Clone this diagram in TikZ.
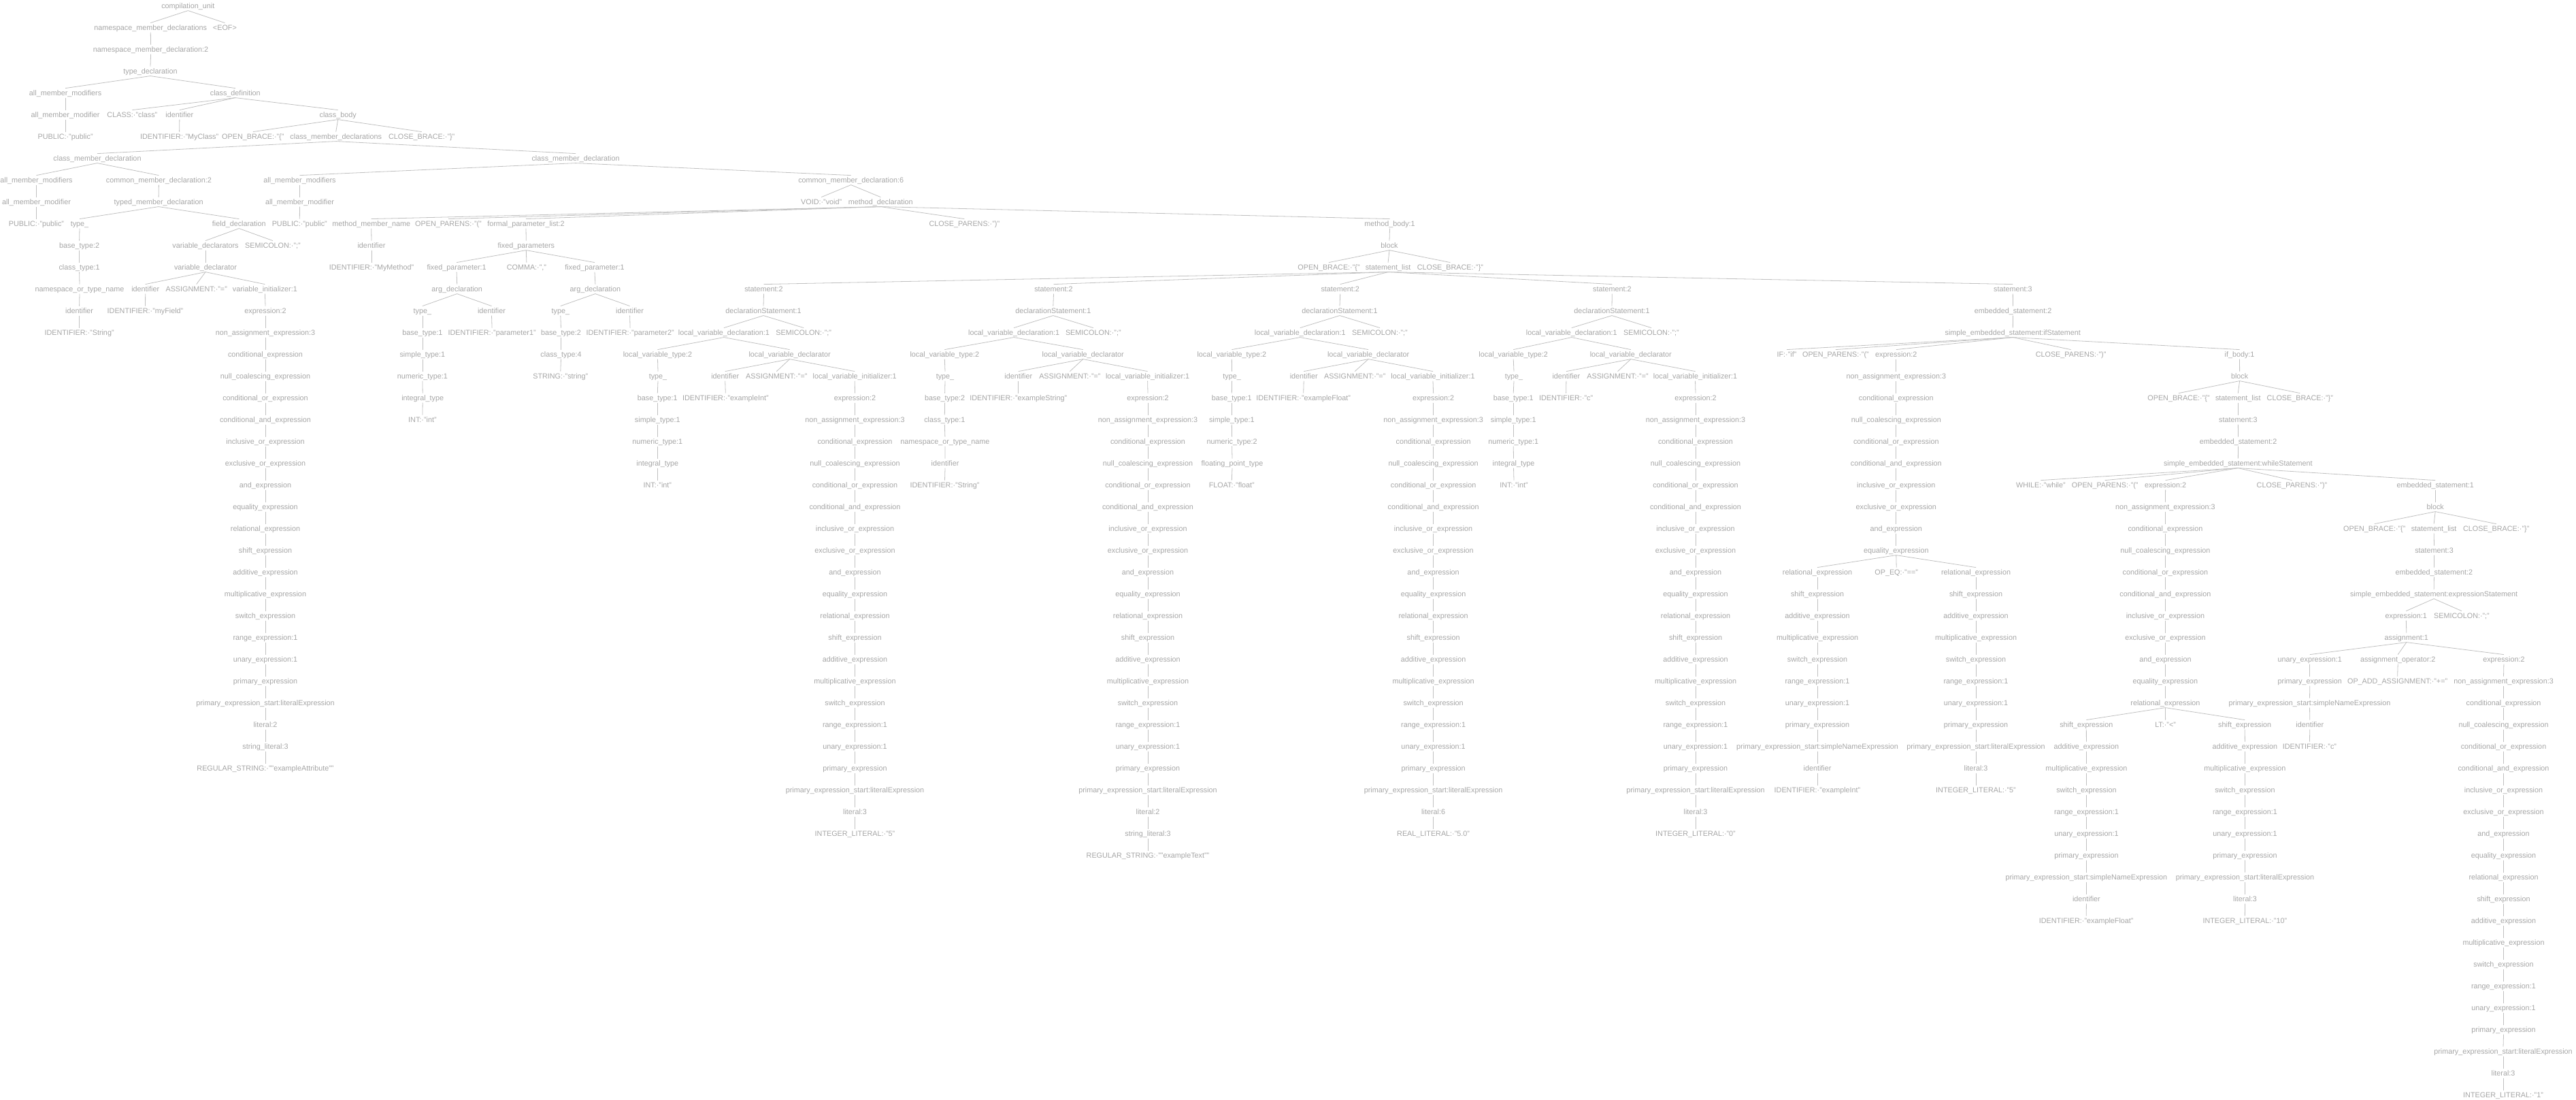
\documentclass[tikz,border=0pt]{standalone}
\usepackage{fontspec}
\setmainfont{Liberation Sans}
\definecolor{tc}{RGB}{165,165,165}
\definecolor{lc}{RGB}{192,192,192}
\tikzset{
  t/.style={inner sep=0pt, text=tc, font=\fontsize{10.8}{12}\selectfont, text height=8pt, text depth=2.3pt},
  ln/.style={draw=lc, line width=0.8pt}
}
\newcommand\Tn[5]{\node[t] (#1) at (#3,#4) {#5}; \draw[ln] ([yshift=-6pt]#2.center) -- ([yshift=8pt]#1.center);}
\newcommand\VChain[5]{%
  \foreach \lab [count=\i from 0] in #5 {%
    \pgfmathtruncatemacro\rr{#4+\i}%
    \node[t] (#1-\i) at (#3,\rr) {\lab};%
    \ifnum\i=0 \draw[ln] ([yshift=-6pt]#2.center) -- ([yshift=8pt]#1-\i.center);%
    \else \pgfmathtruncatemacro\pp{\i-1}\draw[ln] ([yshift=-6pt]#1-\pp.center) -- ([yshift=8pt]#1-\i.center);\fi
  }%
}
\def\LFull{non\_assignment\_expression:3,conditional\_expression,null\_coalescing\_expression,conditional\_or\_expression,conditional\_and\_expression,inclusive\_or\_expression,exclusive\_or\_expression,and\_expression,equality\_expression,relational\_expression,shift\_expression,additive\_expression,multiplicative\_expression,switch\_expression,range\_expression:1,unary\_expression:1,primary\_expression}
\def\LToEq{non\_assignment\_expression:3,conditional\_expression,null\_coalescing\_expression,conditional\_or\_expression,conditional\_and\_expression,inclusive\_or\_expression,exclusive\_or\_expression,and\_expression,equality\_expression}
\def\LToRel{non\_assignment\_expression:3,conditional\_expression,null\_coalescing\_expression,conditional\_or\_expression,conditional\_and\_expression,inclusive\_or\_expression,exclusive\_or\_expression,and\_expression,equality\_expression,relational\_expression}
\def\LShift{shift\_expression,additive\_expression,multiplicative\_expression,switch\_expression,range\_expression:1,unary\_expression:1,primary\_expression}
\def\LAdd{additive\_expression,multiplicative\_expression,switch\_expression,range\_expression:1,unary\_expression:1,primary\_expression}
\begin{document}
\begin{tikzpicture}[x=1pt,y=-32pt]
\useasboundingbox (0,-0.3) rectangle (3786,50.169);
% ---------- top ----------
\node[t] (cu) at (276.3,0) {compilation\_unit};
\Tn{nmds}{cu}{221.3}{1}{namespace\_member\_declarations}
\Tn{eof}{cu}{330.4}{1}{<EOF>}
\Tn{nmd}{nmds}{221.6}{2}{namespace\_member\_declaration:2}
\Tn{td}{nmd}{221}{3}{type\_declaration}
\Tn{amms0}{td}{96.1}{4}{all\_member\_modifiers}
\Tn{cdef}{td}{345.8}{4}{class\_definition}
\Tn{amm0}{amms0}{96.1}{5}{all\_member\_modifier}
\Tn{pub0}{amm0}{96.1}{6}{PUBLIC:·"public"}
\Tn{cls}{cdef}{194.4}{5}{CLASS:·"class"}
\Tn{cid}{cdef}{263.9}{5}{identifier}
\Tn{cbody}{cdef}{496.7}{5}{class\_body}
\Tn{cidt}{cid}{263.6}{6}{IDENTIFIER:·"MyClass"}
\Tn{ob0}{cbody}{371.8}{6}{OPEN\_BRACE:·"\{"}
\Tn{cmds}{cbody}{493.7}{6}{class\_member\_declarations}
\Tn{cb0}{cbody}{619.7}{6}{CLOSE\_BRACE:·"\}"}
\Tn{cmdA}{cmds}{143}{7}{class\_member\_declaration}
\Tn{cmdB}{cmds}{846.1}{7}{class\_member\_declaration}
% ---------- field ----------
\Tn{ammsA}{cmdA}{53.5}{8}{all\_member\_modifiers}
\Tn{cmd2}{cmdA}{233.4}{8}{common\_member\_declaration:2}
\Tn{ammA}{ammsA}{53.5}{9}{all\_member\_modifier}
\Tn{pubA}{ammA}{53.5}{10}{PUBLIC:·"public"}
\Tn{tmd}{cmd2}{233.1}{9}{typed\_member\_declaration}
\Tn{ftype}{tmd}{117}{10}{type\_}
\Tn{fdecl}{tmd}{351.3}{10}{field\_declaration}
\Tn{fbt}{ftype}{116.6}{11}{base\_type:2}
\Tn{fct}{fbt}{116.6}{12}{class\_type:1}
\Tn{fnt}{fct}{117}{13}{namespace\_or\_type\_name}
\Tn{fnid}{fnt}{116.6}{14}{identifier}
\Tn{fnidt}{fnid}{116.6}{15}{IDENTIFIER:·"String"}
\Tn{vds}{fdecl}{302}{11}{variable\_declarators}
\Tn{fsemi}{fdecl}{400.9}{11}{SEMICOLON:·";"}
\Tn{vd}{vds}{302}{12}{variable\_declarator}
\Tn{vdid}{vd}{213.7}{13}{identifier}
\Tn{vdas}{vd}{288.7}{13}{ASSIGNMENT:·"="}
\Tn{vini}{vd}{389.4}{13}{variable\_initializer:1}
\Tn{vdidt}{vdid}{213.5}{14}{IDENTIFIER:·"myField"}
\Tn{fex}{vini}{390}{14}{expression:2}
\VChain{fc}{fex}{390}{15}{\LFull}
\Tn{fpes}{fc-16}{390}{32}{primary\_expression\_start:literalExpression}
\Tn{flit}{fpes}{390}{33}{literal:2}
\Tn{fsl}{flit}{390}{34}{string\_literal:3}
\Tn{frs}{fsl}{390}{35}{REGULAR\_STRING:·""exampleAttribute""}
% ---------- method ----------
\Tn{ammsB}{cmdB}{440.5}{8}{all\_member\_modifiers}
\Tn{cmd6}{cmdB}{1250.7}{8}{common\_member\_declaration:6}
\Tn{ammB}{ammsB}{440.5}{9}{all\_member\_modifier}
\Tn{pubB}{ammB}{440.3}{10}{PUBLIC:·"public"}
\Tn{void}{cmd6}{1207.2}{9}{VOID:·"void"}
\Tn{mdecl}{cmd6}{1294.3}{9}{method\_declaration}
\Tn{mmn}{mdecl}{545.7}{10}{method\_member\_name}
\Tn{op0}{mdecl}{659}{10}{OPEN\_PARENS:·"("}
\Tn{fpl}{mdecl}{773}{10}{formal\_parameter\_list:2}
\Tn{cp0}{mdecl}{1417.3}{10}{CLOSE\_PARENS:·")"}
\Tn{mbody}{mdecl}{2042.5}{10}{method\_body:1}
\Tn{mid}{mmn}{546}{11}{identifier}
\Tn{midt}{mid}{546}{12}{IDENTIFIER:·"MyMethod"}
\Tn{fps}{fpl}{773.3}{11}{fixed\_parameters}
\Tn{fp1}{fps}{671.1}{12}{fixed\_parameter:1}
\Tn{comma}{fps}{773.9}{12}{COMMA:·","}
\Tn{fp2}{fps}{874}{12}{fixed\_parameter:1}
\Tn{ad1}{fp1}{671.7}{13}{arg\_declaration}
\Tn{ad2}{fp2}{874.9}{13}{arg\_declaration}
\Tn{p1t}{ad1}{620.9}{14}{type\_}
\Tn{p1i}{ad1}{722.5}{14}{identifier}
\Tn{p2t}{ad2}{823.8}{14}{type\_}
\Tn{p2i}{ad2}{925.6}{14}{identifier}
\Tn{p1bt}{p1t}{620.9}{15}{base\_type:1}
\Tn{p1it}{p1i}{723.1}{15}{IDENTIFIER:·"parameter1"}
\Tn{p2bt}{p2t}{824.5}{15}{base\_type:2}
\Tn{p2it}{p2i}{926.1}{15}{IDENTIFIER:·"parameter2"}
\Tn{p1st}{p1bt}{620.9}{16}{simple\_type:1}
\Tn{p1nt}{p1st}{620.9}{17}{numeric\_type:1}
\Tn{p1ig}{p1nt}{621.2}{18}{integral\_type}
\Tn{p1int}{p1ig}{620.9}{19}{INT:·"int"}
\Tn{p2ct}{p2bt}{824.5}{16}{class\_type:4}
\Tn{p2s}{p2ct}{823.8}{17}{STRING:·"string"}
% ---------- method body ----------
\Tn{blk}{mbody}{2042}{11}{block}
\Tn{ob1}{blk}{1953}{12}{OPEN\_BRACE:·"\{"}
\Tn{sl}{blk}{2040.1}{12}{statement\_list}
\Tn{cb1}{blk}{2131.4}{12}{CLOSE\_BRACE:·"\}"}
% statement A
\Tn{sA}{sl}{1122.5}{13}{statement:2}
\Tn{dsA}{sA}{1122}{14}{declarationStatement:1}
\Tn{lvdA}{dsA}{1063.9}{15}{local\_variable\_declaration:1}
\Tn{smA}{dsA}{1181.2}{15}{SEMICOLON:·";"}
\Tn{lvtA}{lvdA}{966.5}{16}{local\_variable\_type:2}
\Tn{lvrA}{lvdA}{1160.6}{16}{local\_variable\_declarator}
\Tn{tA}{lvtA}{967}{17}{type\_}
\Tn{btA}{tA}{966.3}{18}{base\_type:1}
\Tn{stA}{btA}{966.3}{19}{simple\_type:1}
\Tn{ntA}{stA}{966.3}{20}{numeric\_type:1}
\Tn{igA}{ntA}{966.3}{21}{integral\_type}
\Tn{inA}{igA}{966.3}{22}{INT:·"int"}
\Tn{idA}{lvrA}{1065.7}{17}{identifier}
\Tn{asA}{lvrA}{1141.3}{17}{ASSIGNMENT:·"="}
\Tn{liA}{lvrA}{1256.2}{17}{local\_variable\_initializer:1}
\Tn{idtA}{idA}{1066.3}{18}{IDENTIFIER:·"exampleInt"}
\Tn{exA}{liA}{1256.5}{18}{expression:2}
\VChain{cA}{exA}{1256.5}{19}{\LFull}
\Tn{pesA}{cA-16}{1256.5}{36}{primary\_expression\_start:literalExpression}
\Tn{litA}{pesA}{1256.5}{37}{literal:3}
\Tn{ilA}{litA}{1256.5}{38}{INTEGER\_LITERAL:·"5"}
% statement B
\Tn{sB}{sl}{1548.5}{13}{statement:2}
\Tn{dsB}{sB}{1547.8}{14}{declarationStatement:1}
\Tn{lvdB}{dsB}{1490.1}{15}{local\_variable\_declaration:1}
\Tn{smB}{dsB}{1606.8}{15}{SEMICOLON:·";"}
\Tn{lvtB}{lvdB}{1388.3}{16}{local\_variable\_type:2}
\Tn{lvrB}{lvdB}{1591.7}{16}{local\_variable\_declarator}
\Tn{tB}{lvtB}{1389}{17}{type\_}
\Tn{btB}{tB}{1388.6}{18}{base\_type:2}
\Tn{ctB}{btB}{1388.3}{19}{class\_type:1}
\Tn{ntB}{ctB}{1388.9}{20}{namespace\_or\_type\_name}
\Tn{niB}{ntB}{1389}{21}{identifier}
\Tn{nitB}{niB}{1388.5}{22}{IDENTIFIER:·"String"}
\Tn{idB}{lvrB}{1496.8}{17}{identifier}
\Tn{asB}{lvrB}{1572.4}{17}{ASSIGNMENT:·"="}
\Tn{liB}{lvrB}{1686.6}{17}{local\_variable\_initializer:1}
\Tn{idtB}{idB}{1496.8}{18}{IDENTIFIER:·"exampleString"}
\Tn{exB}{liB}{1687}{18}{expression:2}
\VChain{cB}{exB}{1687}{19}{\LFull}
\Tn{pesB}{cB-16}{1687}{36}{primary\_expression\_start:literalExpression}
\Tn{litB}{pesB}{1687}{37}{literal:2}
\Tn{slB}{litB}{1687}{38}{string\_literal:3}
\Tn{rsB}{slB}{1687}{39}{REGULAR\_STRING:·""exampleText""}
% statement C
\Tn{sC}{sl}{1969.7}{13}{statement:2}
\Tn{dsC}{sC}{1969}{14}{declarationStatement:1}
\Tn{lvdC}{dsC}{1910.8}{15}{local\_variable\_declaration:1}
\Tn{smC}{dsC}{2028}{15}{SEMICOLON:·";"}
\Tn{lvtC}{lvdC}{1810.3}{16}{local\_variable\_type:2}
\Tn{lvrC}{lvdC}{2011.1}{16}{local\_variable\_declarator}
\Tn{tC}{lvtC}{1810.6}{17}{type\_}
\Tn{btC}{tC}{1810.3}{18}{base\_type:1}
\Tn{stC}{btC}{1810.3}{19}{simple\_type:1}
\Tn{ntC}{stC}{1810.6}{20}{numeric\_type:2}
\Tn{fpC}{ntC}{1811}{21}{floating\_point\_type}
\Tn{flC}{fpC}{1810.3}{22}{FLOAT:·"float"}
\Tn{idC}{lvrC}{1916.2}{17}{identifier}
\Tn{asC}{lvrC}{1991.2}{17}{ASSIGNMENT:·"="}
\Tn{liC}{lvrC}{2106}{17}{local\_variable\_initializer:1}
\Tn{idtC}{idC}{1915.7}{18}{IDENTIFIER:·"exampleFloat"}
\Tn{exC}{liC}{2106.6}{18}{expression:2}
\VChain{cC}{exC}{2106.6}{19}{\LFull}
\Tn{pesC}{cC-16}{2106.6}{36}{primary\_expression\_start:literalExpression}
\Tn{litC}{pesC}{2106.6}{37}{literal:6}
\Tn{rlC}{litC}{2106.6}{38}{REAL\_LITERAL:·"5.0"}
% statement D
\Tn{sD}{sl}{2369.3}{13}{statement:2}
\Tn{dsD}{sD}{2369}{14}{declarationStatement:1}
\Tn{lvdD}{dsD}{2309.8}{15}{local\_variable\_declaration:1}
\Tn{smD}{dsD}{2427}{15}{SEMICOLON:·";"}
\Tn{lvtD}{lvdD}{2224.2}{16}{local\_variable\_type:2}
\Tn{lvrD}{lvdD}{2396.8}{16}{local\_variable\_declarator}
\Tn{tD}{lvtD}{2225}{17}{type\_}
\Tn{btD}{tD}{2224.2}{18}{base\_type:1}
\Tn{stD}{btD}{2224.2}{19}{simple\_type:1}
\Tn{ntD}{stD}{2224.2}{20}{numeric\_type:1}
\Tn{igD}{ntD}{2224.5}{21}{integral\_type}
\Tn{inD}{igD}{2225}{22}{INT:·"int"}
\Tn{idD}{lvrD}{2301.9}{17}{identifier}
\Tn{asD}{lvrD}{2377.5}{17}{ASSIGNMENT:·"="}
\Tn{liD}{lvrD}{2491.5}{17}{local\_variable\_initializer:1}
\Tn{idtD}{idD}{2301.6}{18}{IDENTIFIER:·"c"}
\Tn{exD}{liD}{2492}{18}{expression:2}
\VChain{cD}{exD}{2492}{19}{\LFull}
\Tn{pesD}{cD-16}{2492}{36}{primary\_expression\_start:literalExpression}
\Tn{litD}{pesD}{2492}{37}{literal:3}
\Tn{ilD}{litD}{2492}{38}{INTEGER\_LITERAL:·"0"}
% statement E (if)
\Tn{sE}{sl}{2958.3}{13}{statement:3}
\Tn{esE}{sE}{2958.5}{14}{embedded\_statement:2}
\Tn{ifs}{esE}{2958.3}{15}{simple\_embedded\_statement:ifStatement}
\Tn{ifkw}{ifs}{2626}{16}{IF:·"if"}
\Tn{op2}{ifs}{2697.9}{16}{OPEN\_PARENS:·"("}
\Tn{ifex}{ifs}{2786.8}{16}{expression:2}
\Tn{cp2}{ifs}{3043.6}{16}{CLOSE\_PARENS:·")"}
\Tn{ifb}{ifs}{3291.5}{16}{if\_body:1}
\VChain{ic}{ifex}{2786.8}{17}{\LToEq}
\Tn{irL}{ic-8}{2671}{26}{relational\_expression}
\Tn{ieq}{ic-8}{2787.2}{26}{OP\_EQ:·"=="}
\Tn{irR}{ic-8}{2904}{26}{relational\_expression}
\VChain{iL}{irL}{2671}{27}{\LShift}
\Tn{iLpes}{iL-6}{2671}{34}{primary\_expression\_start:simpleNameExpression}
\Tn{iLid}{iLpes}{2671}{35}{identifier}
\Tn{iLidt}{iLid}{2671}{36}{IDENTIFIER:·"exampleInt"}
\VChain{iR}{irR}{2904}{27}{\LShift}
\Tn{iRpes}{iR-6}{2904}{34}{primary\_expression\_start:literalExpression}
\Tn{iRlit}{iRpes}{2904}{35}{literal:3}
\Tn{iRil}{iRlit}{2904}{36}{INTEGER\_LITERAL:·"5"}
% if body
\Tn{blk2}{ifb}{3291.6}{17}{block}
\Tn{ob2}{blk2}{3202}{18}{OPEN\_BRACE:·"\{"}
\Tn{sl2}{blk2}{3289.3}{18}{statement\_list}
\Tn{cb2}{blk2}{3380.3}{18}{CLOSE\_BRACE:·"\}"}
\Tn{s2}{sl2}{3289.3}{19}{statement:3}
\Tn{es2}{s2}{3289.5}{20}{embedded\_statement:2}
\Tn{ws}{es2}{3289.3}{21}{simple\_embedded\_statement:whileStatement}
\Tn{wkw}{ws}{2999.4}{22}{WHILE:·"while"}
\Tn{op3}{ws}{3093.7}{22}{OPEN\_PARENS:·"("}
\Tn{wex}{ws}{3182.6}{22}{expression:2}
\Tn{cp3}{ws}{3368.5}{22}{CLOSE\_PARENS:·")"}
\Tn{wes}{ws}{3579.2}{22}{embedded\_statement:1}
\VChain{wc}{wex}{3182.4}{23}{\LToRel}
\Tn{wsL}{wc-9}{3066.3}{33}{shift\_expression}
\Tn{wlt}{wc-9}{3182.6}{33}{LT:·"<"}
\Tn{wsR}{wc-9}{3299.2}{33}{shift\_expression}
\VChain{wL}{wsL}{3066.4}{34}{\LAdd}
\Tn{wLpes}{wL-5}{3066.4}{40}{primary\_expression\_start:simpleNameExpression}
\Tn{wLid}{wLpes}{3066.4}{41}{identifier}
\Tn{wLidt}{wLid}{3066.2}{42}{IDENTIFIER:·"exampleFloat"}
\VChain{wR}{wsR}{3299.4}{34}{\LAdd}
\Tn{wRpes}{wR-5}{3299.5}{40}{primary\_expression\_start:literalExpression}
\Tn{wRlit}{wRpes}{3299.5}{41}{literal:3}
\Tn{wRil}{wRlit}{3299.3}{42}{INTEGER\_LITERAL:·"10"}
% while body
\Tn{blk3}{wes}{3579.2}{23}{block}
\Tn{ob3}{blk3}{3489.8}{24}{OPEN\_BRACE:·"\{"}
\Tn{sl3}{blk3}{3577.1}{24}{statement\_list}
\Tn{cb3}{blk3}{3668.7}{24}{CLOSE\_BRACE:·"\}"}
\Tn{s3}{sl3}{3577.5}{25}{statement:3}
\Tn{es3}{s3}{3577.4}{26}{embedded\_statement:2}
\Tn{xs}{es3}{3577.1}{27}{simple\_embedded\_statement:expressionStatement}
\Tn{ex1}{xs}{3536.3}{28}{expression:1}
\Tn{sm3}{xs}{3618}{28}{SEMICOLON:·";"}
\Tn{asg}{ex1}{3536.8}{29}{assignment:1}
\Tn{aun}{asg}{3394.8}{30}{unary\_expression:1}
\Tn{aop}{asg}{3524.2}{30}{assignment\_operator:2}
\Tn{aex}{asg}{3679.9}{30}{expression:2}
\Tn{apr}{aun}{3394.8}{31}{primary\_expression}
\Tn{apes}{apr}{3394.5}{32}{primary\_expression\_start:simpleNameExpression}
\Tn{aid}{apes}{3394.8}{33}{identifier}
\Tn{aidt}{aid}{3394.4}{34}{IDENTIFIER:·"c"}
\Tn{aopt}{aop}{3523.6}{31}{OP\_ADD\_ASSIGNMENT:·"+="}
\VChain{ac}{aex}{3679.5}{31}{\LFull}
\Tn{apes2}{ac-16}{3679}{48}{primary\_expression\_start:literalExpression}
\Tn{alit}{apes2}{3679}{49}{literal:3}
\Tn{ail}{alit}{3679}{50}{INTEGER\_LITERAL:·"1"}
\end{tikzpicture}
\end{document}
